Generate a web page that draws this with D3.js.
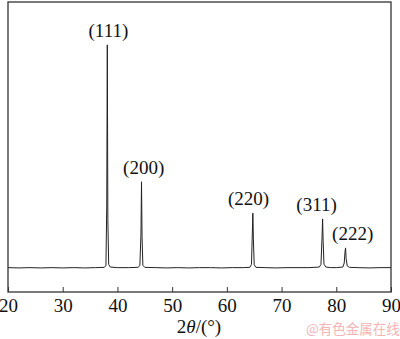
<!DOCTYPE html>
<html>
<head>
<meta charset="utf-8">
<script src="https://cdn.jsdelivr.net/npm/d3@7"></script>
<style>
  body { margin: 0; background: #fff; }
  text { font-family: "Liberation Serif", "Times New Roman", serif; fill: #111; }
</style>
</head>
<body>
<div id="chart"></div>
<script>
// pattern: 2theta (deg) and intensity (a.u.)
var twoTheta = [20, 22, 24, 26, 28, 30, 32, 34, 36, 37.6, 37.9, 38.05, 38.15, 38.25, 38.4, 38.7,
  40, 42, 43.8, 44.1, 44.3, 44.4, 44.5, 44.65, 45, 47, 49, 51, 53, 55, 57, 59, 61, 63,
  64.2, 64.5, 64.65, 64.75, 64.85, 65.0, 65.3, 67, 69, 71, 73, 75, 76.9, 77.2, 77.4,
  77.5, 77.6, 77.75, 78.1, 79, 80, 81.2, 81.45, 81.6, 81.7, 81.8, 82.0, 82.4, 84, 86, 88, 90];
var intensity = [84, 83, 84, 83, 84, 83, 84, 83, 84, 85, 92, 300, 852, 250, 95, 86,
  84, 84, 85, 92, 200, 380, 190, 92, 85, 84, 83, 84, 83, 84, 84, 83, 84, 84,
  85, 95, 200, 272, 180, 94, 85, 84, 83, 84, 84, 84, 86, 95, 190,
  252, 175, 96, 86, 84, 84, 86, 100, 140, 152, 115, 90, 85, 84, 83, 84, 84];

var peakPos = [38.15, 44.4, 64.75, 77.5, 81.7];
var peakTop = [852, 380, 272, 252, 152];
var peakNames = ["(111)", "(200)", "(220)", "(311)", "(222)"];
var labelShift = [0.2, 0.4, -0.8, -1.1, 1.3];

var xTicks = [20, 30, 40, 50, 60, 70, 80, 90];

var settings = {
  width: 400,
  height: 339,
  left: 8,
  right: 391,
  top: 2,
  bottom: 292,
  font: 19
};

var x = d3.scaleLinear().domain([20, 90]).range([settings.left, settings.right]);
var y = d3.scaleLinear().domain([0, 1000]).range([settings.bottom, settings.top]);

var svg = d3.select("#chart").append("svg")
  .attr("width", settings.width)
  .attr("height", settings.height);

var pts = twoTheta.map(function(t, i){ return [t, intensity[i]]; });

svg.append("path")
  .datum(pts)
  .attr("fill", "none")
  .attr("stroke", "#222")
  .attr("stroke-width", 1)
  .attr("d", d3.line()
    .x(function(d){ return x(d[0]); })
    .y(function(d){ return y(d[1]); }));

// frame
svg.append("rect")
  .attr("x", settings.left).attr("y", settings.top)
  .attr("width", settings.right - settings.left)
  .attr("height", settings.bottom - settings.top)
  .attr("fill", "none")
  .attr("stroke", "#333")
  .attr("stroke-width", 1.3);

var xAxis = svg.append("g")
  .attr("transform", "translate(0," + settings.bottom + ")")
  .call(d3.axisBottom(x).tickValues(xTicks).tickSizeInner(-5).tickSizeOuter(0).tickPadding(7));
xAxis.select(".domain").remove();
xAxis.selectAll("line").attr("stroke", "#333");
xAxis.selectAll("text")
  .style("font-family", "'Liberation Serif', serif")
  .style("font-size", settings.font + "px")
  .attr("fill", "#111");

// peak labels
svg.selectAll(".plabel")
  .data(peakNames)
  .enter().append("text")
  .attr("class", "plabel")
  .attr("text-anchor", "middle")
  .attr("font-size", settings.font + "px")
  .attr("x", function(d, i){ return x(peakPos[i] + labelShift[i]); })
  .attr("y", function(d, i){ return y(peakTop[i]) - 8; })
  .text(function(d){ return d; });

// axis title
var t = svg.append("text")
  .attr("x", 199)
  .attr("y", 333)
  .attr("text-anchor", "middle")
  .attr("font-size", settings.font + "px");
t.append("tspan").text("2");
t.append("tspan").attr("font-style", "italic").text("θ");
t.append("tspan").text("/(°)");

svg.append("text")
  .attr("x", 306)
  .attr("y", 334)
  .style("font-family", "'Noto Sans CJK SC', sans-serif")
  .style("font-size", "13.5px")
  .style("fill", "#f3b5b5")
  .text("@有色金属在线");
</script>
</body>
</html>
